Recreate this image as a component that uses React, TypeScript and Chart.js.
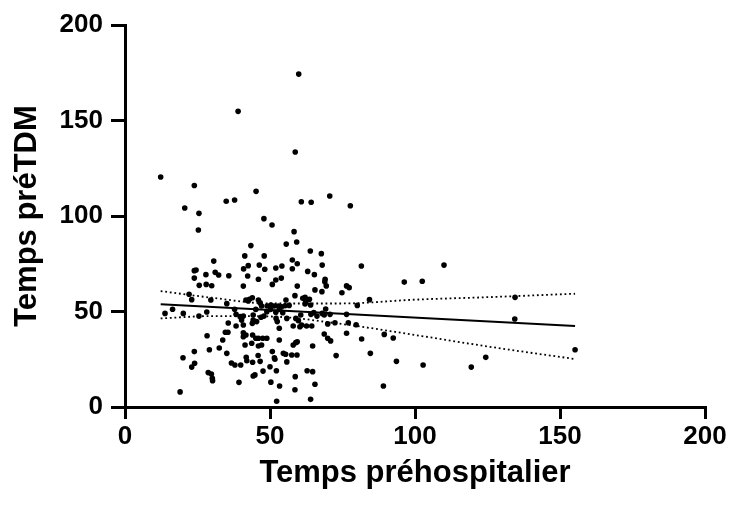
import React, { useEffect, useRef } from 'react';
import { Chart, registerables } from 'chart.js';

Chart.register(...registerables);

const xTitle = 'Temps préhospitalier';
const yTitle = 'Temps préTDM';
const xTicks = [0, 50, 100, 150, 200];
const yTicks = [0, 50, 100, 150, 200];

const pointX = [
  59.9, 39.0, 58.7, 12.3, 23.9, 45.2, 70.6, 37.8, 34.9, 60.8, 64.2, 77.7, 20.6, 25.5, 47.9, 25.3, 50.7, 58.3, 59.2, 55.6,
  43.4, 41.3, 48.0, 63.9, 67.7, 57.7, 59.4, 30.6, 23.9, 24.5, 23.9, 27.9, 31.1, 32.3, 35.8, 42.5, 40.9, 46.3, 48.2, 52.0,
  54.1, 57.7, 68.0, 63.0, 65.3, 42.3, 53.9, 46.0, 52.0, 69.0, 81.5, 110.0, 96.3, 102.5, 68.9,
  25.6, 28.0, 29.9, 40.8, 50.8, 59.4, 65.5, 69.4, 67.9, 74.8, 76.4, 77.3, 58.6, 22.1, 23.0, 29.6, 35.1, 41.7, 42.9, 43.9,
  42.5, 46.0, 46.6, 61.3, 62.1, 63.6, 62.3, 62.1, 64.0, 55.5, 84.3, 80.1, 134.5, 134.4,
  47.1, 49.0, 50.3, 51.5, 52.9, 54.0, 55.2, 56.6, 48.9, 50.2, 52.0, 53.2, 54.4, 45.1, 44.2, 40.8, 47.9, 46.9, 52.1, 52.5,
  53.2, 55.8, 58.9, 60.6, 59.8, 60.9, 60.3, 64.1, 65.1, 66.2, 68.0, 68.7, 70.7, 76.4, 69.2, 62.6, 64.4, 58.0, 69.9, 72.4,
  77.0, 43.9, 44.2, 45.4, 40.8, 40.2, 13.8, 16.4, 20.1, 25.5, 28.2, 37.8, 38.3, 39.7, 35.6, 38.3, 79.7,
  34.6, 35.5, 28.3, 33.7, 32.5, 29.1, 23.9, 35.1, 20.0, 24.0, 23.0, 36.7, 37.9, 28.7, 29.8, 30.1, 30.2, 39.3, 19.0, 52.3,
  64.0, 44.2, 44.8, 47.6, 50.3, 53.3, 58.6, 65.5, 58.7, 52.2, 50.0, 62.8, 64.7, 42.0, 41.8, 39.9, 44.0, 46.6, 51.5, 51.7,
  55.8, 45.9, 50.8, 54.6, 55.4, 57.5, 59.3, 40.8, 41.7, 40.8, 44.0, 45.1, 46.0, 47.5, 48.9, 53.2, 58.0, 58.9, 59.4, 64.7,
  68.7, 69.9, 70.9, 76.4, 41.4, 43.7, 46.0, 47.1, 72.8, 155.2, 81.6, 89.4, 92.5, 84.6, 93.6, 102.8, 119.4, 124.4, 89.1
];

const pointY = [
  174.3, 154.8, 133.5, 120.4, 116.0, 112.9, 110.5, 108.4, 107.7, 107.5, 107.2, 105.4, 104.2, 101.4, 98.6, 92.7, 95.3, 91.8, 86.4, 85.3,
  84.5, 79.1, 79.1, 81.7, 80.3, 77.0, 75.0, 76.4, 71.4, 71.7, 67.5, 69.3, 70.5, 69.1, 68.7, 74.0, 72.3, 74.3, 72.1, 72.8,
  73.8, 72.4, 74.3, 71.0, 69.3, 68.6, 67.5, 66.9, 66.5, 66.9, 73.8, 74.3, 65.4, 65.8, 65.6,
  63.7, 64.2, 63.5, 63.3, 64.2, 63.3, 61.3, 63.4, 60.4, 59.8, 63.4, 62.5, 58.3, 59.0, 56.2, 56.0, 54.1, 56.0, 56.4, 57.2,
  55.5, 56.0, 54.5, 56.9, 57.4, 56.4, 55.1, 53.9, 53.4, 56.0, 56.2, 53.2, 57.4, 46.1,
  52.9, 52.9, 53.4, 52.9, 52.9, 52.5, 53.0, 53.2, 49.9, 51.1, 49.6, 51.1, 49.4, 51.1, 48.2, 47.6, 47.6, 47.0, 46.4, 44.7,
  41.2, 46.4, 46.4, 48.2, 45.2, 42.9, 42.0, 48.5, 49.4, 47.6, 49.0, 48.2, 48.5, 48.5, 51.3, 42.4, 42.4, 42.4, 43.5, 44.1,
  44.1, 43.8, 45.5, 44.7, 42.9, 45.5, 49.0, 51.2, 49.0, 47.6, 49.7, 51.2, 48.5, 47.3, 44.0, 42.4, 43.1,
  39.1, 39.1, 37.3, 35.1, 30.9, 30.0, 29.0, 28.1, 25.8, 22.9, 20.9, 23.0, 22.0, 18.0, 17.3, 15.0, 13.8, 12.9, 7.9, 3.0,
  4.0, 16.2, 16.8, 18.8, 13.0, 11.0, 9.0, 11.9, 15.9, 19.0, 21.1, 19.0, 18.5, 24.2, 26.0, 22.0, 23.4, 23.9, 25.7, 25.0,
  23.6, 27.0, 29.0, 28.1, 27.6, 27.2, 27.2, 38.9, 37.7, 36.8, 37.7, 36.0, 36.0, 36.0, 36.0, 35.1, 32.5, 33.7, 34.2, 31.9,
  38.2, 36.0, 34.6, 38.6, 32.5, 33.4, 31.9, 32.5, 26.9, 30.0, 35.6, 38.0, 36.1, 28.1, 23.9, 22.0, 20.9, 26.0, 11.0
];

const fitX = [12.3, 155.2];
const fitY = [53.8, 42.4];
const bandX = [12.3, 30, 50, 75, 100, 125, 155.2];
const bandUpper = [60.7, 57.2, 54.2, 54.2, 56.2, 57.5, 59.3];
const bandLower = [46.4, 47.6, 47.4, 43.4, 37.7, 31.7, 25.1];

const FONT = '"Liberation Sans", Arial, Helvetica, sans-serif';

function pairs(xs: number[], ys: number[]) {
  return xs.map((x, i) => ({ x, y: ys[i] }));
}

export default function App() {
  const ref = useRef<HTMLCanvasElement | null>(null);

  useEffect(() => {
    if (!ref.current) return;
    const chart = new Chart(ref.current, {
      type: 'scatter',
      data: {
        datasets: [
          {
            label: 'upper',
            data: pairs(bandX, bandUpper),
            showLine: true,
            borderColor: '#000',
            borderWidth: 1.8,
            borderDash: [1.8, 2.8],
            pointRadius: 0,
            cubicInterpolationMode: 'monotone',
          },
          {
            label: 'lower',
            data: pairs(bandX, bandLower),
            showLine: true,
            borderColor: '#000',
            borderWidth: 1.8,
            borderDash: [1.8, 2.8],
            pointRadius: 0,
            cubicInterpolationMode: 'monotone',
          },
          {
            label: 'fit',
            data: pairs(fitX, fitY),
            showLine: true,
            borderColor: '#000',
            borderWidth: 2,
            pointRadius: 0,
          },
          {
            label: 'points',
            data: pairs(pointX, pointY),
            backgroundColor: '#000',
            borderColor: '#000',
            borderWidth: 0,
            pointRadius: 2.8,
          },
        ],
      },
      options: {
        responsive: false,
        animation: false,
        events: [],
        layout: { padding: { left: 0, right: 25, top: 25, bottom: 0 } },
        plugins: { legend: { display: false }, tooltip: { enabled: false } },
        scales: {
          x: {
            type: 'linear',
            min: 0,
            max: 200,
            afterBuildTicks: (s: any) => {
              s.ticks = xTicks.map((v) => ({ value: v }));
            },
            afterFit: (s: any) => {
              s.height = 106;
              s.paddingLeft = 0;
              s.paddingRight = 0;
            },
            border: { display: true, color: '#000', width: 3 },
            grid: { drawOnChartArea: false, drawTicks: true, color: '#000', lineWidth: 3, tickLength: 12 },
            ticks: { color: '#000', font: { family: FONT, size: 26, weight: 'bold' }, padding: 2, maxRotation: 0 },
            title: {
              display: true,
              text: xTitle,
              color: '#000',
              font: { family: FONT, size: 31, weight: 'bold' },
              padding: { top: 0, bottom: 21 },
            },
          },
          y: {
            type: 'linear',
            min: 0,
            max: 200,
            afterBuildTicks: (s: any) => {
              s.ticks = yTicks.map((v) => ({ value: v }));
            },
            afterFit: (s: any) => {
              s.width = 125;
              s.paddingTop = 0;
              s.paddingBottom = 0;
            },
            border: { display: true, color: '#000', width: 3 },
            grid: { drawOnChartArea: false, drawTicks: true, color: '#000', lineWidth: 3, tickLength: 14 },
            ticks: { color: '#000', font: { family: FONT, size: 26, weight: 'bold' }, padding: 8 },
            title: {
              display: true,
              text: yTitle,
              color: '#000',
              font: { family: FONT, size: 31, weight: 'bold' },
              padding: { top: 9, bottom: 0 },
            },
          },
        },
      },
    });
    return () => chart.destroy();
  }, []);

  return (
    <div style={{ position: 'fixed', left: 0, top: 0, width: 730, height: 513, background: '#fff' }}>
      <canvas ref={ref} width={730} height={513} />
    </div>
  );
}
